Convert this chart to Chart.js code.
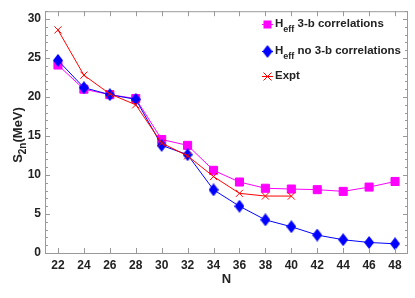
<!DOCTYPE html>
<html>
<head>
<meta charset="utf-8">
<script src="https://cdn.jsdelivr.net/npm/chart.js@4.4.0/dist/chart.umd.min.js"></script>
<style>
  html, body { margin: 0; padding: 0; background: #fff; }
  #wrap { position: relative; width: 415px; height: 298px; }
</style>
</head>
<body>
<div id="wrap"><canvas id="s2nChart" width="415" height="298"></canvas></div>
<script>
// Two-neutron separation energies vs neutron number
const neutronN = [22, 24, 26, 28, 30, 32, 34, 36, 38, 40, 42, 44, 46, 48];
const s2nWith3b = [24.1, 21.0, 20.3, 19.8, 14.55, 13.8, 10.6, 9.1, 8.3, 8.2, 8.12, 7.9, 8.45, 9.17];
const s2nNo3b = [24.7, 21.2, 20.3, 19.7, 13.8, 12.6, 8.1, 6.0, 4.25, 3.37, 2.3, 1.7, 1.35, 1.18];
const exptN = [22, 24, 26, 28, 30, 32, 34, 36, 38, 40];
const s2nExpt = [28.6, 22.8, 20.4, 19.0, 14.1, 12.45, 9.8, 7.65, 7.3, 7.3];
const xTickValues = [22, 24, 26, 28, 30, 32, 34, 36, 38, 40, 42, 44, 46, 48];
const yTickValues = [0, 5, 10, 15, 20, 25, 30];

const AXIS_COLOR = '#999999';
const TEXT_COLOR = '#222222';
const FONT = '"Liberation Sans", Arial, sans-serif';

const legendItems = [
    { sub: 'eff', rest: ' 3-b correlations', color: '#ff00ff' },
    { sub: 'eff', rest: ' no 3-b correlations', color: '#0000ff' },
    { main: 'Expt', color: '#ff0000' }
];

function toPoints(xs, ys) {
    return xs.map((x, i) => ({ x: x, y: ys[i] }));
}

// tall diamond marker for the blue series
function makeDiamond(w, h, color) {
    const c = document.createElement('canvas');
    c.width = w; c.height = h;
    const g = c.getContext('2d');
    g.fillStyle = color;
    g.beginPath();
    g.moveTo(w / 2, 0);
    g.lineTo(w, h / 2);
    g.lineTo(w / 2, h);
    g.lineTo(0, h / 2);
    g.closePath();
    g.fill();
    return c;
}
const diamond = makeDiamond(10, 13, '#0000ff');

function drawMarker(ctx, kind, x, y, color) {
    ctx.save();
    ctx.fillStyle = color;
    ctx.strokeStyle = color;
    ctx.lineWidth = 1;
    if (kind === 0) {
        ctx.fillRect(x - 4, y - 4, 8, 8);
    } else if (kind === 1) {
        ctx.drawImage(diamond, x - 5, y - 6.5);
    } else {
        ctx.beginPath();
        ctx.moveTo(x - 4, y - 4); ctx.lineTo(x + 4, y + 4);
        ctx.moveTo(x + 4, y - 4); ctx.lineTo(x - 4, y + 4);
        ctx.stroke();
    }
    ctx.restore();
}

const framePlugin = {
    id: 'frameAndLabels',
    afterDraw(chart) {
        const ctx = chart.ctx;
        const a = chart.chartArea;
        const xs = chart.scales.x;
        const ys = chart.scales.y;
        ctx.save();
        ctx.strokeStyle = AXIS_COLOR;
        ctx.lineWidth = 1;
        ctx.strokeRect(a.left + 0.5, a.top + 0.5, a.right - a.left - 1, a.bottom - a.top);
        ctx.beginPath();
        // x ticks bottom and top, inward
        xTickValues.forEach(v => {
            const px = Math.round(xs.getPixelForValue(v)) + 0.5;
            ctx.moveTo(px, a.bottom); ctx.lineTo(px, a.bottom - 5);
            ctx.moveTo(px, a.top); ctx.lineTo(px, a.top + 5);
        });
        // y ticks, major every 5 and minor every 1
        for (let v = 0; v <= 31; v++) {
            const py = Math.round(ys.getPixelForValue(v)) + 0.5;
            const len = v % 5 === 0 ? 5 : 3;
            ctx.moveTo(a.left, py); ctx.lineTo(a.left + len, py);
            ctx.moveTo(a.right, py); ctx.lineTo(a.right - len, py);
        }
        ctx.stroke();

        // y axis title S_2n(MeV)
        ctx.translate(18, 135);
        ctx.rotate(-Math.PI / 2);
        ctx.fillStyle = TEXT_COLOR;
        ctx.textBaseline = 'alphabetic';
        const big = 'bold 13px ' + FONT;
        const small = 'bold 10px ' + FONT;
        ctx.font = big;
        const wS = ctx.measureText('S').width;
        ctx.font = small;
        const w2n = ctx.measureText('2n').width;
        ctx.font = big;
        const wM = ctx.measureText('(MeV)').width;
        let sx = -(wS + w2n + wM) / 2;
        ctx.fillText('S', sx, 4);
        ctx.font = small;
        ctx.fillText('2n', sx + wS, 8);
        ctx.font = big;
        ctx.fillText('(MeV)', sx + wS + w2n, 4);
        ctx.restore();

        // legend
        ctx.save();
        const rows = [24, 51, 76];
        const lf = 'bold 11.5px ' + FONT;
        legendItems.forEach((item, i) => {
            const y = rows[i];
            ctx.strokeStyle = item.color;
            ctx.lineWidth = 1;
            ctx.beginPath();
            ctx.moveTo(262, y + 0.5); ctx.lineTo(273, y + 0.5);
            ctx.stroke();
            drawMarker(ctx, i, 267.5, y + 0.5, item.color);
            ctx.fillStyle = TEXT_COLOR;
            ctx.textBaseline = 'middle';
            let tx = 275;
            if (item.sub) {
                ctx.font = lf;
                ctx.fillText('H', tx, y);
                tx += ctx.measureText('H').width;
                ctx.font = 'bold 9px ' + FONT;
                ctx.fillText(item.sub, tx, y + 6);
                tx += ctx.measureText(item.sub).width;
                ctx.font = lf;
                ctx.fillText(item.rest, tx, y);
            } else {
                ctx.font = lf;
                ctx.fillText(item.main, tx, y);
            }
        });
        ctx.restore();
    }
};

new Chart(document.getElementById('s2nChart'), {
    type: 'line',
    data: {
        datasets: [
            {
                label: 'Heff 3-b correlations',
                data: toPoints(neutronN, s2nWith3b),
                borderColor: '#ff00ff',
                backgroundColor: '#ff00ff',
                borderWidth: 1,
                pointStyle: 'rect',
                pointRadius: 5.7,
                order: 2
            },
            {
                label: 'Heff no 3-b correlations',
                data: toPoints(neutronN, s2nNo3b),
                borderColor: '#0000ff',
                backgroundColor: '#0000ff',
                borderWidth: 1,
                pointStyle: diamond,
                order: 1
            },
            {
                label: 'Expt',
                data: toPoints(exptN, s2nExpt),
                borderColor: '#ff0000',
                backgroundColor: '#ff0000',
                borderWidth: 1,
                pointStyle: 'crossRot',
                pointRadius: 5,
                pointBorderWidth: 1,
                order: 0
            }
        ]
    },
    options: {
        responsive: false,
        animation: false,
        layout: { padding: { left: 0, right: 7, top: 8, bottom: 0 } },
        plugins: {
            legend: { display: false },
            tooltip: { enabled: false }
        },
        scales: {
            x: {
                type: 'linear',
                min: 21,
                max: 49,
                afterBuildTicks: (s) => { s.ticks = xTickValues.map(v => ({ value: v })); },
                afterFit: (s) => { s.height = 45; },
                grid: { display: false, drawTicks: false },
                border: { display: false },
                ticks: {
                    color: TEXT_COLOR,
                    padding: 5,
                    maxRotation: 0,
                    autoSkip: false,
                    font: { family: FONT, size: 12, weight: 'bold' }
                },
                title: {
                    display: true,
                    text: 'N',
                    color: TEXT_COLOR,
                    padding: { top: 0, bottom: 11 },
                    font: { family: FONT, size: 13, weight: 'bold' }
                }
            },
            y: {
                min: 0,
                max: 31,
                afterBuildTicks: (s) => { s.ticks = yTickValues.map(v => ({ value: v })); },
                afterFit: (s) => { s.width = 45; },
                grid: { display: false, drawTicks: false },
                border: { display: false },
                ticks: {
                    color: TEXT_COLOR,
                    padding: 4,
                    font: { family: FONT, size: 12, weight: 'bold' }
                }
            }
        }
    },
    plugins: [framePlugin]
});
</script>
</body>
</html>
